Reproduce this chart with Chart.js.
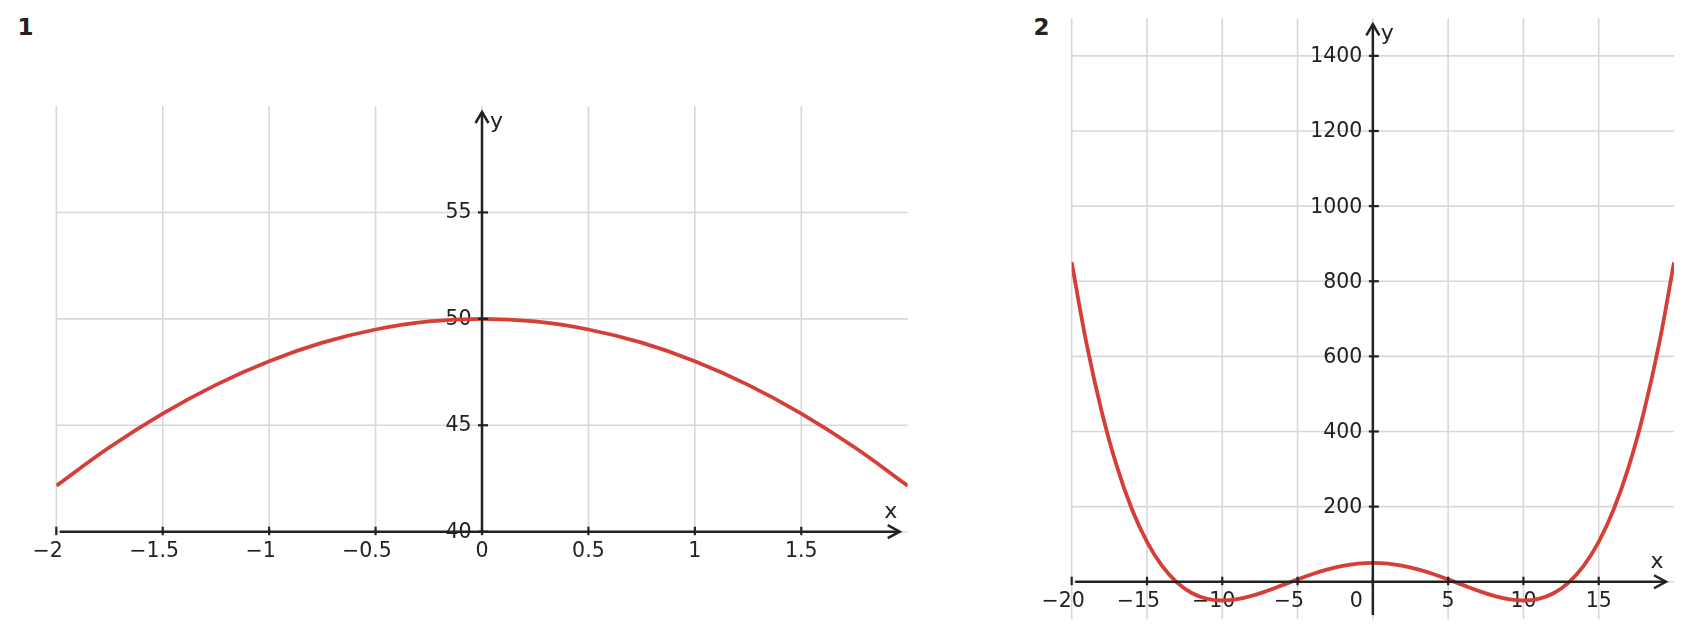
<!DOCTYPE html>
<html>
<head>
<meta charset="utf-8">
<script src="https://cdn.jsdelivr.net/npm/chart.js@4.4.1/dist/chart.umd.min.js"></script>
<style>
html,body{margin:0;padding:0;background:#fff;}
body{width:1691px;height:638px;position:relative;overflow:hidden;font-family:"DejaVu Sans",sans-serif;}
canvas{position:absolute;left:0;top:0;}
.plabel{position:absolute;font-family:"DejaVu Sans",sans-serif;font-weight:bold;font-size:23px;line-height:23px;color:#222;}
</style>
</head>
<body>
<div class="plabel" style="left:17.5px;top:15.5px">1</div>
<div class="plabel" style="left:1033.5px;top:15.5px">2</div>
<canvas id="c1" width="1691" height="638"></canvas>
<canvas id="c2" width="1691" height="638"></canvas>
<script>
// ---------- data ----------
// Panel 1
const p1X = [-2, -1.75, -1.5, -1.25, -1, -0.75, -0.5, -0.25, 0, 0.25, 0.5, 0.75, 1, 1.25, 1.5, 1.75, 2];
const p1Y = [42.16, 43.97, 45.55, 46.9, 48.01, 48.88, 49.5, 49.88, 50, 49.88, 49.5, 48.88, 48.01, 46.9, 45.55, 43.97, 42.16];
const p1XTicks = [-2, -1.5, -1, -0.5, 0, 0.5, 1, 1.5];
const p1XTickLabels = ["\u22122", "\u22121.5", "\u22121", "\u22120.5", "0", "0.5", "1", "1.5"];
const p1YTicks = [40, 45, 50, 55];
const p1YTickLabels = ["40", "45", "50", "55"];

// Panel 2
const p2X = [-20, -19, -18, -17, -16, -15, -14, -13, -12, -11, -10, -9, -8, -7, -6, -5, -4, -3, -2, -1, 0,
             1, 2, 3, 4, 5, 6, 7, 8, 9, 10, 11, 12, 13, 14, 15, 16, 17, 18, 19, 20];
const p2Y = [850, 631, 452, 307, 193, 106, 42, -2.4, -30.6, -45.6, -50, -46.4, -37, -24, -9, 6.3, 20.6, 32.8, 42.2, 48, 50,
             48, 42.2, 32.8, 20.6, 6.3, -9, -24, -37, -46.4, -50, -45.6, -30.6, -2.4, 42, 106, 193, 307, 452, 631, 850];
const p2XTicks = [-20, -15, -10, -5, 0, 5, 10, 15];
const p2XTickLabels = ["\u221220", "\u221215", "\u221210", "\u22125", "0", "5", "10", "15"];
const p2YTicks = [200, 400, 600, 800, 1000, 1200, 1400];
const p2YTickLabels = ["200", "400", "600", "800", "1000", "1200", "1400"];

// ---------- styling ----------
const RED = '#d63f38';
const GRID = '#d8d8d8';
const INK = '#222222';
const TICK_FONT = '20.5px "DejaVu Sans"';
const TITLE_FONT = '22px "DejaVu Sans"';

function axesPlugin(cfg) {
  function seg(ctx, x1, y1, x2, y2) { ctx.beginPath(); ctx.moveTo(x1, y1); ctx.lineTo(x2, y2); ctx.stroke(); }
  return {
    id: 'axes_' + cfg.id,
    beforeDatasetsDraw(chart) {
      const { ctx, chartArea: a, scales: { x, y } } = chart;
      const axY = y.getPixelForValue(cfg.xAxisAt);
      const axX = x.getPixelForValue(0);
      ctx.save();
      ctx.strokeStyle = GRID; ctx.lineWidth = 1.6;
      cfg.xGrid.forEach(v => { const px = x.getPixelForValue(v); seg(ctx, px, a.top, px, a.bottom); });
      cfg.yGrid.forEach(v => { const py = y.getPixelForValue(v); seg(ctx, a.left, py, a.right, py); });
      // tick labels
      ctx.fillStyle = INK; ctx.font = TICK_FONT; ctx.textBaseline = 'alphabetic';
      cfg.xTicks.forEach((v, i) => {
        const lab = cfg.xTickLabels[i];
        let px = x.getPixelForValue(v);
        if (v === 0) px += cfg.zeroDx;
        const neg = lab.startsWith('\u2212');
        const body = neg ? lab.slice(1) : lab;
        const wb = ctx.measureText(body).width;
        const wm = neg ? ctx.measureText('\u2212').width : 0;
        ctx.textAlign = 'left';
        ctx.fillText(lab, px - wb / 2 - wm, axY + 25.6);
      });
      ctx.textAlign = 'right';
      cfg.yTicks.forEach((v, i) => {
        const py = y.getPixelForValue(v);
        ctx.fillText(cfg.yTickLabels[i], axX - 10.5, py + cfg.yLabDy);
      });
      ctx.restore();
    },
    afterDatasetsDraw(chart) {
      const { ctx, chartArea: a, scales: { x, y } } = chart;
      const axY = y.getPixelForValue(cfg.xAxisAt);
      const axX = x.getPixelForValue(0);
      ctx.save();
      ctx.strokeStyle = INK; ctx.lineWidth = 2.5; ctx.lineCap = 'butt';
      // x axis
      const tipX = a.right - 8;
      seg(ctx, a.left + 3.5, axY, tipX, axY);
      ctx.beginPath(); ctx.moveTo(tipX - 12, axY - 6.5); ctx.lineTo(tipX, axY); ctx.lineTo(tipX - 12, axY + 6.5); ctx.stroke();
      // y axis
      const tipY = a.top + 6;
      seg(ctx, axX, a.bottom - cfg.yAxisBottomInset, axX, tipY);
      ctx.beginPath(); ctx.moveTo(axX - 6.5, tipY + 11); ctx.lineTo(axX, tipY); ctx.lineTo(axX + 6.5, tipY + 11); ctx.stroke();
      // ticks
      ctx.lineWidth = 2.2;
      cfg.xTicks.forEach(v => { const px = x.getPixelForValue(v); seg(ctx, px, axY - 5, px, axY + 3.5); });
      cfg.yTicks.forEach(v => { const py = y.getPixelForValue(v); seg(ctx, axX - 4, py, axX + 6, py); });
      // axis titles
      ctx.fillStyle = INK; ctx.font = TITLE_FONT; ctx.textBaseline = 'alphabetic';
      ctx.textAlign = 'center';
      ctx.fillText('x', tipX - 9, axY - 13.7);
      ctx.textAlign = 'left';
      ctx.fillText('y', axX + 8, tipY + 15.5);
      ctx.restore();
    }
  };
}

function makeChart(id, xs, ys, xr, yr, pad, cfg) {
  const data = xs.map((v, i) => ({ x: v, y: ys[i] }));
  return new Chart(document.getElementById(id), {
    type: 'line',
    data: { datasets: [{ data, borderColor: RED, borderWidth: 3.8, pointRadius: 0, tension: 0.4, fill: false }] },
    options: {
      responsive: false, animation: false, events: [],
      devicePixelRatio: 1,
      layout: { padding: pad },
      plugins: { legend: { display: false }, tooltip: { enabled: false }, title: { display: false } },
      scales: {
        x: { type: 'linear', display: false, min: xr[0], max: xr[1] },
        y: { type: 'linear', display: false, min: yr[0], max: yr[1] }
      }
    },
    plugins: [axesPlugin(cfg)]
  });
}

makeChart('c1', p1X, p1Y, [-2, 2], [40, 60],
  { left: 56.3, top: 106, right: 1691 - 907.7, bottom: 638 - 531.7 },
  { id: 1, xAxisAt: 40, xGrid: p1XTicks, yGrid: [40, 45, 50, 55],
    xTicks: p1XTicks, xTickLabels: p1XTickLabels, yTicks: p1YTicks, yTickLabels: p1YTickLabels,
    zeroDx: 0, yLabDy: 6.0, yAxisBottomInset: -1 });

makeChart('c2', p2X, p2Y, [-20, 20], [-100, 1500],
  { left: 1071.7, top: 18.3, right: 1691 - 1674, bottom: 638 - 619.3 },
  { id: 2, xAxisAt: 0, xGrid: p2XTicks, yGrid: [0, 200, 400, 600, 800, 1000, 1200, 1400],
    xTicks: p2XTicks, xTickLabels: p2XTickLabels, yTicks: p2YTicks, yTickLabels: p2YTickLabels,
    zeroDx: -16.5, yLabDy: 6.5, yAxisBottomInset: 4.3 });
</script>
</body>
</html>
